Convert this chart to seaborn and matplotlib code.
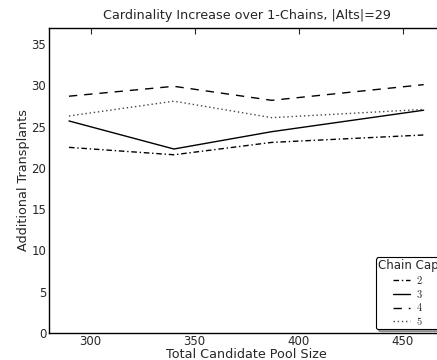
import numpy as np
import pandas as pd
import matplotlib
matplotlib.use('Agg')
import matplotlib.pyplot as plt
import seaborn as sns

# values
pool_size = [289.6, 340, 387, 460]
cap2 = [22.5, 21.6, 23.1, 24.0]
cap3 = [25.7, 22.3, 24.4, 27.0]
cap4 = [28.7, 29.9, 28.2, 30.1]
cap5 = [26.3, 28.1, 26.1, 27.1]
caps = ['2', '3', '4', '5']

sns.set_style('white')
plt.rcParams['font.family'] = ['DejaVu Sans']
plt.rcParams['mathtext.fontset'] = 'cm'

fig = plt.figure(figsize=(4.37, 3.6), dpi=100)
# axes runs a bit past the right edge of the figure, as in the reference
ax = fig.add_axes([0.1121, 0.075, 0.905, 0.848])

styles = {'2': (0, (4, 2, 1, 2)), '3': '-', '4': (0, (6, 5)), '5': (0, (1, 2))}
colors = {'2': 'black', '3': 'black', '4': 'black', '5': '#444444'}
for cap, vals in zip(caps, [cap2, cap3, cap4, cap5]):
    sns.lineplot(x=pool_size, y=vals, ax=ax, color=colors[cap], linewidth=1.0,
                 linestyle=styles[cap], label='$' + cap + '$')

ax.set_xlim(280, 470)
ax.set_ylim(0, 37)
ax.set_xticks([300, 350, 400, 450])
ax.set_yticks(range(0, 40, 5))
ax.tick_params(direction='in', length=4, width=0.8, labelsize=8.5, top=True, right=True, pad=2)
ax.tick_params(axis='x', pad=1.5)
for s in ax.spines.values():
    s.set_color('black')
    s.set_linewidth(1.0)

ax.set_title('Cardinality Increase over 1-Chains, |Alts|=29', fontsize=9.2, pad=6)
ax.set_xlabel('Total Candidate Pool Size', fontsize=9.2, labelpad=0)
ax.set_ylabel('Additional Transplants', fontsize=9.2, labelpad=1)

leg = ax.legend(title='Chain Cap', loc='lower right', fontsize=7.5, title_fontsize=8.5,
                shadow=True, fancybox=True, framealpha=1, edgecolor='black',
                handlelength=1.6, borderpad=0.2, labelspacing=0.15,
                handletextpad=0.6, borderaxespad=0.4)
leg.get_frame().set_linewidth(0.8)

fig.savefig('out.png', dpi=100)
